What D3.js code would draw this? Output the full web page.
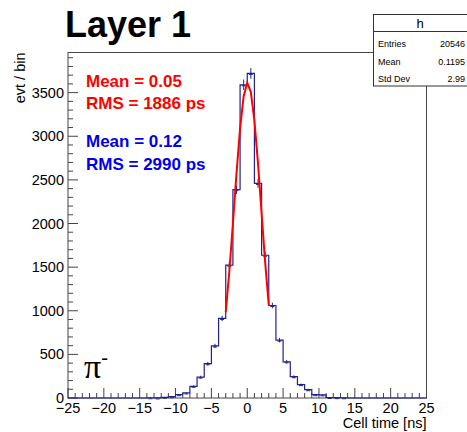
<!DOCTYPE html>
<html>
<head>
<meta charset="utf-8">
<script src="https://cdn.jsdelivr.net/npm/d3@7"></script>
<style>
  body { margin: 0; background: #fff; }
  svg { display: block; }
  text { font-family: "Liberation Sans", Arial, Helvetica, sans-serif; }
</style>
</head>
<body>
<div id="chart"></div>
<script>
// bin low edges (1 ns bins) and counts
var binEdges = [-14, -13, -12, -11, -10, -9, -8, -7, -6, -5, -4, -3, -2, -1, 0, 1, 2, 3, 4, 5, 6, 7, 8, 9, 10, 11, 12, 13];
var binCounts = [3, 1, 8, 15, 38, 58, 134, 240, 393, 597, 912, 1522, 2388, 3590, 3720, 2460, 1636, 1060, 663, 415, 244, 153, 95, 38, 36, 6, 4, 3];

// gaussian fit curve as drawn (red), sampled points
var fitX = [-3, -2.5, -2, -1.5, -1, -0.5, 0, 0.5, 1, 1.5, 2, 2.5, 3];
var fitY = [985, 1450, 2000, 2575, 3090, 3460, 3612, 3510, 3180, 2690, 2115, 1555, 1065];

var xTicks = [-25, -20, -15, -10, -5, 0, 5, 10, 15, 20, 25];
var yTicks = [0, 500, 1000, 1500, 2000, 2500, 3000, 3500];

var statLabels = ['Entries', 'Mean', 'Std Dev'];
var statValues = ['20546', '0.1195', '2.99'];

var W = 467, H = 432;
var padL = 68, padR = 426.5, padT = 52.5, padB = 398;

var svg = d3.select('#chart').append('svg')
  .attr('width', W)
  .attr('height', H);

var x = d3.scaleLinear().domain([-25, 25]).range([padL, padR]);
var y = d3.scaleLinear().domain([0, 3960]).range([padB, padT]);

var axisColor = '#444';

// frame
svg.append('rect')
  .attr('x', padL).attr('y', padT)
  .attr('width', padR - padL).attr('height', padB - padT)
  .attr('fill', 'none').attr('stroke', axisColor).attr('stroke-width', 1);

// x ticks (inside, pointing up)
var xMinor = d3.range(-25, 25.01, 1);
svg.append('g').selectAll('line')
  .data(xMinor)
  .enter().append('line')
  .attr('x1', function(d) { return x(d); })
  .attr('x2', function(d) { return x(d); })
  .attr('y1', padB)
  .attr('y2', function(d) { return d % 5 === 0 ? padB - 10 : padB - 5; })
  .attr('stroke', axisColor);

svg.append('g').selectAll('text')
  .data(xTicks)
  .enter().append('text')
  .attr('x', function(d) { return x(d); })
  .attr('y', 413)
  .attr('text-anchor', 'middle')
  .style('font-size', '14.5px')
  .text(function(d) { return d < 0 ? '\u2212' + Math.abs(d) : d; });

// y ticks (inside, pointing right)
var yMinor = d3.range(0, 3901, 100);
svg.append('g').selectAll('line')
  .data(yMinor)
  .enter().append('line')
  .attr('x1', padL)
  .attr('x2', function(d) { return d % 500 === 0 ? padL + 10 : padL + 5; })
  .attr('y1', function(d) { return y(d); })
  .attr('y2', function(d) { return y(d); })
  .attr('stroke', axisColor);

svg.append('g').selectAll('text')
  .data(yTicks)
  .enter().append('text')
  .attr('x', 64)
  .attr('y', function(d) { return y(d) + 5; })
  .attr('text-anchor', 'end')
  .style('font-size', '14.5px')
  .text(function(d) { return d; });

// axis titles
svg.append('text')
  .attr('x', padR).attr('y', 428)
  .attr('text-anchor', 'end')
  .style('font-size', '14.5px')
  .text('Cell time [ns]');

svg.append('text')
  .attr('transform', 'translate(25,' + padT + ') rotate(-90)')
  .attr('text-anchor', 'end')
  .style('font-size', '14.5px')
  .text('evt / bin');

// histogram outline (steps only)
var histColor = '#22228a';
var pts = [[x(-25), y(0)], [x(binEdges[0]), y(0)]];
binEdges.forEach(function(e, i) {
  pts.push([x(e), y(binCounts[i])]);
  pts.push([x(e + 1), y(binCounts[i])]);
});
pts.push([x(binEdges[binEdges.length - 1] + 1), y(0)]);
pts.push([x(25), y(0)]);

svg.append('path')
  .attr('d', d3.line()(pts))
  .attr('fill', 'none')
  .attr('stroke', histColor)
  .attr('stroke-width', 1.2);

// error bars
var errs = svg.append('g');
binEdges.forEach(function(e, i) {
  var c = binCounts[i];
  var cx = x(e + 0.5);
  errs.append('line')
    .attr('x1', cx).attr('x2', cx)
    .attr('y1', y(c + Math.sqrt(c))).attr('y2', y(Math.max(0, c - Math.sqrt(c))))
    .attr('stroke', histColor).attr('stroke-width', 1);
  errs.append('line')
    .attr('x1', cx - 2).attr('x2', cx + 2)
    .attr('y1', y(c) + 1).attr('y2', y(c) + 1)
    .attr('stroke', histColor).attr('stroke-width', 1);
});

// fit curve
svg.append('path')
  .datum(fitX.map(function(d, i) { return [d, fitY[i]]; }))
  .attr('d', d3.line()
    .x(function(d) { return x(d[0]); })
    .y(function(d) { return y(d[1]); }))
  .attr('fill', 'none')
  .attr('stroke', '#ff0000')
  .attr('stroke-width', 2);

// title
svg.append('text')
  .attr('x', 65).attr('y', 37)
  .style('font-size', '36px')
  .style('font-weight', 'bold')
  .text('Layer 1');

// fit results
var notes = [
  { t: 'Mean = 0.05', c: '#ff0000', y: 87 },
  { t: 'RMS = 1886 ps', c: '#ff0000', y: 109 },
  { t: 'Mean = 0.12', c: '#0000ee', y: 147 },
  { t: 'RMS = 2990 ps', c: '#0000ee', y: 170 }
];
svg.append('g').selectAll('text')
  .data(notes)
  .enter().append('text')
  .attr('x', 86)
  .attr('y', function(d) { return d.y; })
  .style('font-size', '17px')
  .style('font-weight', 'bold')
  .style('fill', function(d) { return d.c; })
  .text(function(d) { return d.t; });

// particle label
var pi = svg.append('text')
  .attr('x', 84).attr('y', 378)
  .style('font-family', '"Liberation Serif", "Times New Roman", serif')
  .style('font-size', '34px');
pi.append('tspan').text('\u03c0');
pi.append('tspan')
  .attr('dy', -14)
  .style('font-size', '20px')
  .text('-');

// stats box
var box = svg.append('g');
box.append('rect')
  .attr('x', 373.5).attr('y', 14.5)
  .attr('width', 100).attr('height', 71.5)
  .attr('fill', '#fff').attr('stroke', '#333');
box.append('line')
  .attr('x1', 373.5).attr('x2', 467)
  .attr('y1', 31.5).attr('y2', 31.5)
  .attr('stroke', '#333');
box.append('text')
  .attr('x', 420).attr('y', 28)
  .attr('text-anchor', 'middle')
  .style('font-size', '13px')
  .text('h');
statLabels.forEach(function(l, i) {
  box.append('text')
    .attr('x', 378).attr('y', 47 + i * 17.5)
    .style('font-size', '9px')
    .text(l);
  box.append('text')
    .attr('x', 465).attr('y', 47 + i * 17.5)
    .attr('text-anchor', 'end')
    .style('font-size', '9px')
    .text(statValues[i]);
});
</script>
</body>
</html>
